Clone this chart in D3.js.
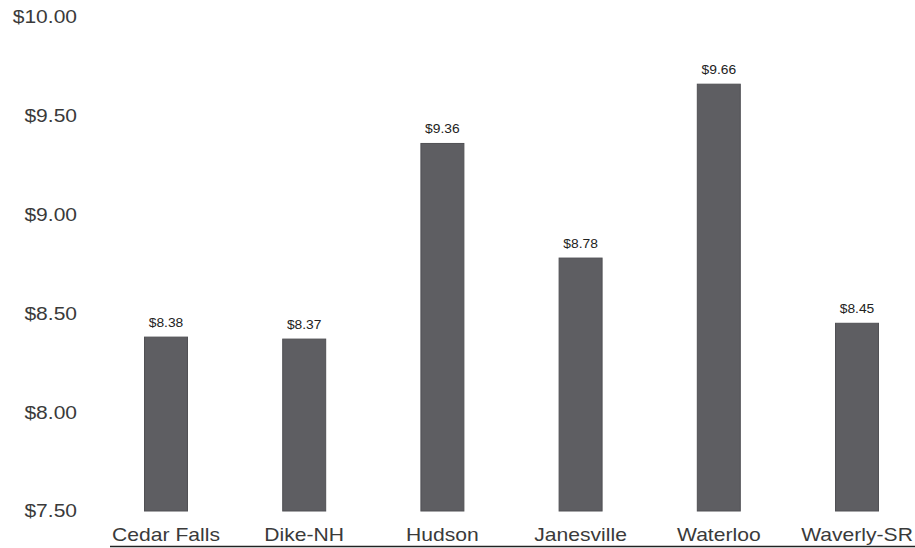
<!DOCTYPE html>
<html><head><meta charset="utf-8">
<script src="https://cdn.jsdelivr.net/npm/d3@7"></script>
<style>
html,body{margin:0;padding:0;background:#fff;}
svg{display:block;}
</style></head>
<body>
<svg id="chart" width="915" height="548"></svg>
<script>
const categories = ["Cedar Falls","Dike-NH","Hudson","Janesville","Waterloo","Waverly-SR"];
const values = [8.38, 8.37, 9.36, 8.78, 9.66, 8.45];
const valueLabels = ["$8.38","$8.37","$9.36","$8.78","$9.66","$8.45"];
const yTicks = [7.5, 8.0, 8.5, 9.0, 9.5, 10.0];

const svg = d3.select("#chart");
const y = d3.scaleLinear().domain([7.5, 10]).range([511, 17]);
const x = d3.scaleBand().domain(categories).range([96.9, 926.1])
  .paddingInner(0.689).paddingOuter(0.3445);

const fontFam = "'Liberation Sans', Arial, sans-serif";
function stretch(sel, k) {
  sel.each(function() {
    const len = this.getComputedTextLength();
    d3.select(this).attr("textLength", len * k).attr("lengthAdjust", "spacingAndGlyphs");
  });
}

// y axis labels
const yAxis = d3.axisLeft(y).tickValues(yTicks).tickSize(0).tickPadding(0)
  .tickFormat(d => "$" + d3.format(".2f")(d));
const gy = svg.append("g").attr("transform", "translate(77,0)").call(yAxis);
gy.select(".domain").remove();
gy.selectAll("text").attr("font-family", fontFam).attr("font-size", 18.6).attr("fill", "#3a3a3a");
stretch(gy.selectAll("text"), 1.13);

// bars
svg.append("g").selectAll("rect").data(values).join("rect")
  .attr("x", (d,i) => x(categories[i]))
  .attr("width", x.bandwidth())
  .attr("y", d => y(d))
  .attr("height", d => y(7.5) - y(d))
  .attr("fill", "#5e5e62")
  .attr("stroke", "#505054")
  .attr("stroke-width", 1);

// value labels
const vl = svg.append("g").selectAll("text").data(values).join("text")
  .attr("x", (d,i) => x(categories[i]) + x.bandwidth()/2)
  .attr("y", d => y(d) - 10)
  .attr("text-anchor", "middle")
  .attr("font-family", fontFam).attr("font-size", 12)
  .attr("fill", "#222")
  .text((d,i) => valueLabels[i]);
stretch(vl, 1.15);

// x axis
const xAxis = d3.axisBottom(x).tickSize(0).tickPadding(0);
const gx = svg.append("g").attr("transform", "translate(0,528)").call(xAxis);
gx.select(".domain").remove();
gx.selectAll("text").attr("font-family", fontFam).attr("font-size", 18.5).attr("fill", "#3a3a3a")
  .attr("dy", "0.71em");
stretch(gx.selectAll("text"), 1.14);

// baseline
svg.append("line").attr("x1", 110).attr("x2", 915).attr("y1", 546.5).attr("y2", 546.5)
  .attr("stroke", "#222").attr("stroke-width", 1.6);
</script>
</body></html>
